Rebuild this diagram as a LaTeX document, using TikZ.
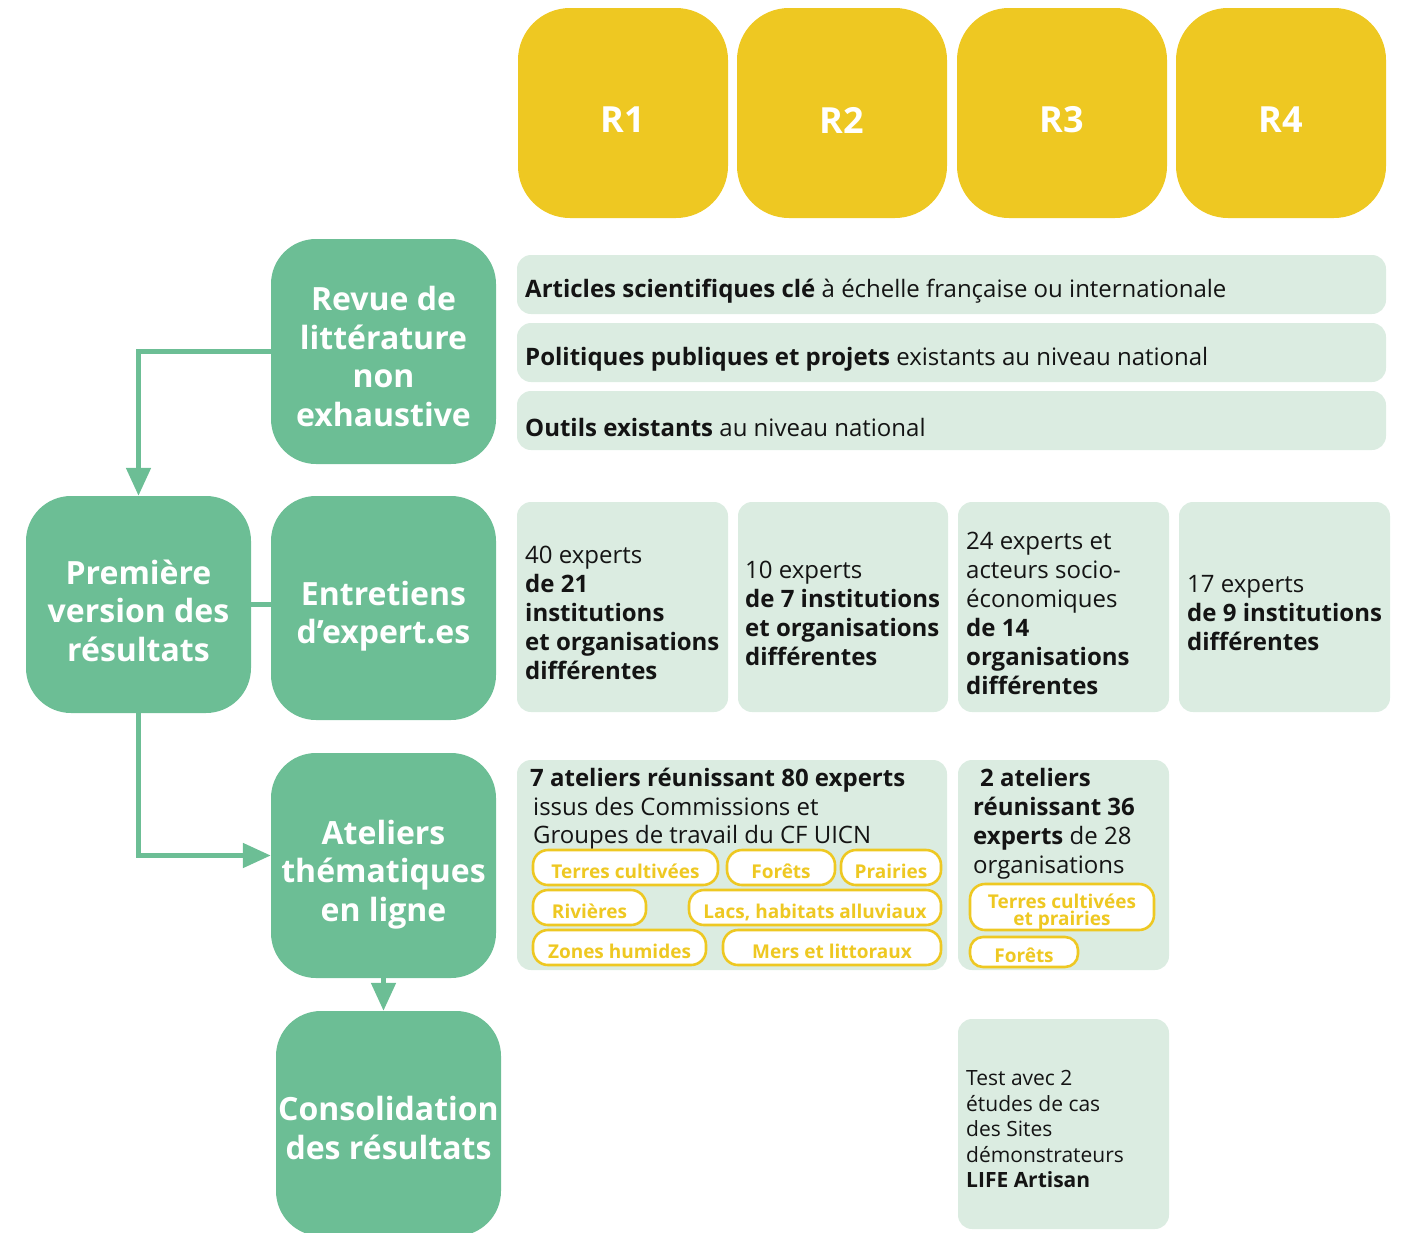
\documentclass[tikz,border=0pt]{standalone}
\usepackage{fontspec}
\setmainfont{Open Sans}
\usetikzlibrary{arrows.meta}
\definecolor{ygold}{HTML}{EEC822}
\definecolor{gmain}{HTML}{6CBE95}
\definecolor{glight}{HTML}{DBECE1}
\definecolor{tdark}{HTML}{141414}
\begin{document}
\begin{tikzpicture}[x=1pt,y=-1pt,
 rbox/.style={fill=ygold, rounded corners=52pt, minimum width=210pt, minimum height=210pt, inner sep=0pt},
 rtxt/.style={text=white, font=\fontsize{36}{40}\selectfont\bfseries, inner sep=0pt},
 gbox/.style={fill=gmain, rounded corners=45pt, minimum width=225pt, minimum height=225pt, inner sep=0pt},
 gtxt/.style={text=white, font=\fontsize{32}{38.5}\selectfont\bfseries, align=center, inner sep=0pt},
 lbox/.style={fill=glight, rounded corners=14pt, inner sep=0pt},
 btxt/.style={text=tdark, font=\fontsize{24}{29}\selectfont, align=left, inner sep=0pt},
 ttxt/.style={text=tdark, font=\fontsize{21}{25.5}\selectfont, align=left, inner sep=0pt},
 pill/.style={draw=ygold, line width=2.6pt, fill=white, rounded corners=15pt, text=ygold, font=\fontsize{19}{17}\selectfont\bfseries, inner sep=0pt, text height=21pt, text depth=0pt},
 ptxt/.style={text=ygold, font=\fontsize{19}{18}\selectfont\bfseries, inner sep=0pt, align=center},
 conn/.style={draw=gmain, line width=5pt},
 tip/.style={-{Triangle[length=28pt,width=24pt]}}
]
\useasboundingbox (0,0) rectangle (1411,1232);

% R boxes
\node[rbox] (r1) at (623,113) {};
\node[rtxt] (r1t) at ([yshift=-7pt]r1.center) {R1};
\node[rbox] (r2) at (842,113) {};
\node[rtxt] (r2t) at ([yshift=-7pt]r2.center) {R2};
\node[rbox] (r3) at (1062,113) {};
\node[rtxt] (r3t) at ([yshift=-7pt]r3.center) {R3};
\node[rbox] (r4) at (1281,113) {};
\node[rtxt] (r4t) at ([yshift=-7pt]r4.center) {R4};

% literature rows
\node[lbox, minimum width=869pt, minimum height=59pt] (l1) at (951.5,284.5) {};
\node[btxt, anchor=west] (l1t) at (525,291) {\textbf{Articles scientifiques clé} à échelle française ou internationale};
\node[lbox, minimum width=869pt, minimum height=59pt] (l2) at (951.5,352.5) {};
\node[btxt, anchor=west] (l2t) at (525,359) {\textbf{Politiques publiques et projets} existants au niveau national};
\node[lbox, minimum width=869pt, minimum height=59pt] (l3) at (951.5,420.5) {};
\node[btxt, anchor=west] (l3t) at (525,427) {\textbf{Outils existants} au niveau national};

% green boxes
\node[gbox] (rev) at (383.5,351.5) {};
\node[gtxt] (revt) at ([yshift=-5pt]rev.center) {Revue de\\littérature\\non\\exhaustive};
\node[gbox, minimum height=217pt] (prem) at (138.5,604.5) {};
\node[gtxt] (premt) at ([yshift=-6pt]prem.center) {Première\\version des\\résultats};
\node[gbox, minimum height=224pt] (ent) at (383.5,608) {};
\node[gtxt] (entt) at ([yshift=-8pt]ent.center) {Entretiens\\d’expert.es};
\node[gbox] (atel) at (383.5,865.5) {};
\node[gtxt] (atelt) at ([yshift=-9pt]atel.center) {Ateliers\\thématiques\\en ligne};
\node[gbox] (cons) at (388.5,1123.5) {};
\node[gtxt] (const) at ([yshift=-4.5pt]cons.center) {Consolidation\\des résultats};

% expert boxes
\node[lbox, minimum width=211pt, minimum height=210pt] (e1) at (622.5,607) {};
\node[btxt, anchor=west] (e1t) at (525,613) {40 experts\\\textbf{de 21}\\\textbf{institutions}\\\textbf{et organisations}\\\textbf{différentes}};
\node[lbox, minimum width=210pt, minimum height=210pt] (e2) at (843,607) {};
\node[btxt, anchor=west] (e2t) at (745,613) {10 experts\\\textbf{de 7 institutions}\\\textbf{et organisations}\\\textbf{différentes}};
\node[lbox, minimum width=211pt, minimum height=210pt] (e3) at (1063.5,607) {};
\node[btxt, anchor=west] (e3t) at (966,613) {24 experts et\\acteurs socio-\\économiques\\\textbf{de 14}\\\textbf{organisations}\\\textbf{différentes}};
\node[lbox, minimum width=211pt, minimum height=210pt] (e4) at (1284.5,607) {};
\node[btxt, anchor=west] (e4t) at (1187,613) {17 experts\\\textbf{de 9 institutions}\\\textbf{différentes}};

% ateliers boxes
\node[lbox, minimum width=430pt, minimum height=210pt] (a1) at (732,865) {};
\node[btxt, anchor=north west, font=\fontsize{24}{28.5}\selectfont] (a1t) at (530,768) {\textbf{7 ateliers réunissant 80 experts}\\\hspace*{3pt}issus des Commissions et\\\hspace*{3pt}Groupes de travail du CF UICN};
\node[lbox, minimum width=211pt, minimum height=210pt] (a2) at (1063.5,865) {};
\node[btxt, anchor=north west] (a2t) at (973,768) {\hspace*{7pt}\textbf{2 ateliers}\\\textbf{réunissant 36}\\\textbf{experts} de 28\\organisations};

% pills
\node[pill, minimum width=185pt, minimum height=35pt] (p1) at (625.5,867.5) {Terres cultivées};
\node[pill, minimum width=108pt, minimum height=35pt] (p2) at (781,867.5) {Forêts};
\node[pill, minimum width=100pt, minimum height=35pt] (p3) at (891,867.5) {Prairies};
\node[pill, minimum width=113pt, minimum height=35pt] (p4) at (589.5,907.5) {Rivières};
\node[pill, minimum width=252pt, minimum height=35pt] (p5) at (815,907.5) {Lacs, habitats alluviaux};
\node[pill, minimum width=173pt, minimum height=35pt] (p6) at (619.5,947.5) {Zones humides};
\node[pill, minimum width=218pt, minimum height=35pt] (p7) at (832,947.5) {Mers et littoraux};
\node[pill, minimum width=184pt, minimum height=46pt] (p8) at (1062,907) {};
\node[ptxt] (p8t) at ([yshift=-5pt]p8.center) {Terres cultivées\\[-1pt]et prairies};
\node[pill, minimum width=108pt, minimum height=30pt, rounded corners=13pt] (p9) at (1024,952) {Forêts};

% test box
\node[lbox, minimum width=211pt, minimum height=210pt] (tb) at (1063.5,1124) {};
\node[ttxt, anchor=west] (tbt) at (966,1129) {Test avec 2\\études de cas\\des Sites\\démonstrateurs\\\textbf{LIFE Artisan}};

% connectors
\draw[conn, tip] (rev.west) -| (prem.north);
\draw[conn] (prem.east) -- (prem.east -| ent.west);
\draw[conn, tip] (prem.south) |- ([yshift=10pt]atel.west);
\draw[conn, tip] (atel.south) -- (atel.south |- cons.north);
\end{tikzpicture}
\end{document}
